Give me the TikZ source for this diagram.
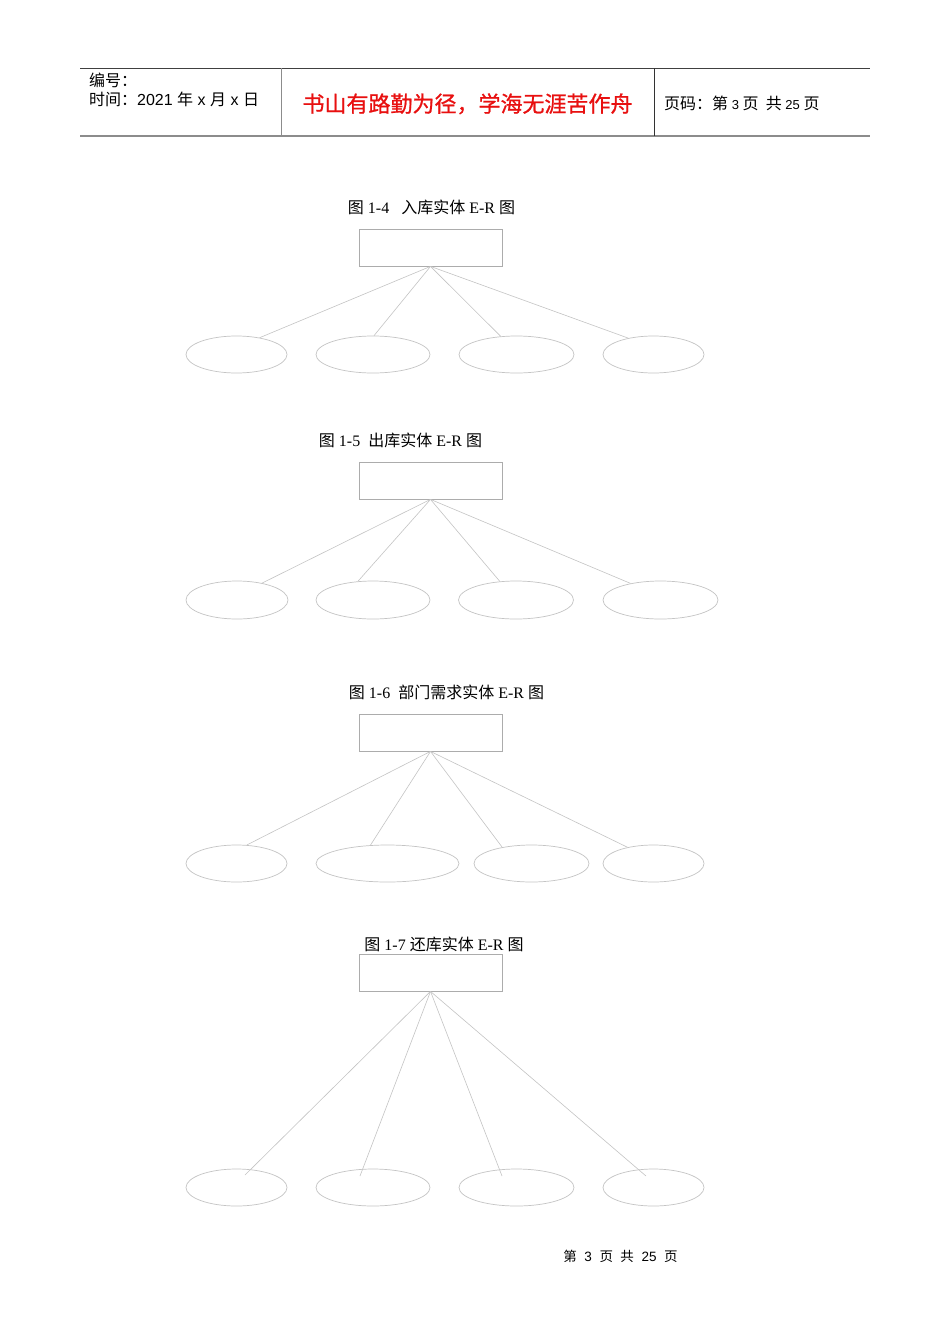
\documentclass[tikz,border=0pt]{standalone}
\usepackage{fontspec}
\setmainfont{Liberation Serif}
\newfontfamily\cjk{Noto Sans CJK SC}
\newfontfamily\cjkmid[FakeBold=0.9]{Noto Sans CJK SC}
\newfontfamily\hdsans{Liberation Sans}
\usepackage{tikz}
\usetikzlibrary{shapes.geometric}
\definecolor{linegray}{RGB}{196,196,196}
\definecolor{boxgray}{RGB}{172,172,172}
\definecolor{hdred}{RGB}{232,16,16}

\begin{document}
\begin{tikzpicture}[x=1pt,y=-1pt,
    entity/.style={draw=boxgray, line width=0.8pt, rectangle, inner sep=0pt, minimum width=143, minimum height=37},
    attr/.style={draw=linegray, line width=0.7pt, ellipse, inner sep=0pt, minimum height=37},
    erline/.style={draw=linegray, line width=0.6pt},
    caption/.style={anchor=base, inner sep=0pt, font=\fontsize{16}{19}\selectfont},
    hdtext/.style={anchor=base west, inner sep=0pt, font=\fontsize{16}{19}\selectfont}]
     \useasboundingbox[fill=white] (0,0) rectangle (950,1344);
     % Page Header
     \draw[ line width=0.8pt, black!75] (80,68)  -- (870,68) ;
     \draw[ line width=1.6pt, black!45] (80,136)  -- (870,136) ;
     \draw[ line width=0.8pt, black!45] (281,68)  -- (281,136) ;
     \draw[ line width=0.8pt, black!80] (654,68)  -- (654,136) ;
     \node[hdtext] (hdno) at (89,86) {\cjk 编号：};
     \node[hdtext] (hddate) at (89,105) {{\cjk 时间：}{\hdsans 2021\ }{\cjk 年}{\hdsans\ x\ }{\cjk 月}{\hdsans\ x\ }{\cjk 日}};
     \node[anchor=base, inner sep=0pt, text=hdred, font=\fontsize{22}{26}\selectfont\cjkmid] (motto) at (467.5,112) {书山有路勤为径，学海无涯苦作舟};
     \node[hdtext] (hdpage) at (664,109) {{\cjk 页码：第}{\hdsans\fontsize{13}{16}\selectfont\ 3\ }{\cjk 页\ \ 共}{\hdsans\fontsize{13}{16}\selectfont\ 25\ }{\cjk 页}};
     %
     % Figure 1-4
     \node[caption] (cap1) at (431.5,213) {{\cjk 图} 1-4\ \ \ {\cjk 入库实体} E-R {\cjk 图}};
     \node[entity] (r1) at (430.5,247.5) {};
     \node[attr, minimum width=101] (e11) at (236.5,354.5) {};
     \node[attr, minimum width=114] (e12) at (373,354.5) {};
     \node[attr, minimum width=115] (e13) at (516.5,354.5) {};
     \node[attr, minimum width=101] (e14) at (653.5,354.5) {};
     \draw[ erline] (r1.south)  -- (e11.36) ;
     \draw[ erline] (r1.south)  -- (e12.87) ;
     \draw[ erline] (r1.south)  -- (e13.131) ;
     \draw[ erline] (r1.south)  -- (e14.147) ;
     %
     % Figure 1-5
     \node[caption] (cap2) at (400.5,446) {{\cjk 图} 1-5\ \ {\cjk 出库实体} E-R {\cjk 图}};
     \node[entity] (r2) at (430.5,480.5) {};
     \node[attr, minimum width=102, minimum height=38] (e21) at (237,600) {};
     \node[attr, minimum width=114, minimum height=38] (e22) at (373,600) {};
     \node[attr, minimum width=115, minimum height=38] (e23) at (516,600) {};
     \node[attr, minimum width=115, minimum height=38] (e24) at (660.5,600) {};
     \draw[ erline] (r2.south)  -- (e21.34) ;
     \draw[ erline] (r2.south)  -- (e22.129) ;
     \draw[ erline] (r2.south)  -- (e23.131) ;
     \draw[ erline] (r2.south)  -- (e24.151) ;
     %
     % Figure 1-6
     \node[caption] (cap3) at (446.5,698) {{\cjk 图} 1-6\ \ {\cjk 部门需求实体} E-R {\cjk 图}};
     \node[entity] (r3) at (430.5,732.5) {};
     \node[attr, minimum width=101] (e31) at (236.5,863.5) {};
     \node[attr, minimum width=143] (e32) at (387.5,863.5) {};
     \node[attr, minimum width=115] (e33) at (531.5,863.5) {};
     \node[attr, minimum width=101] (e34) at (653.5,863.5) {};
     \draw[ erline] (r3.south)  -- (e31.61) ;
     \draw[ erline] (r3.south)  -- (e32.133) ;
     \draw[ erline] (r3.south)  -- (e33.151) ;
     \draw[ erline] (r3.south)  -- (e34.148) ;
     %
     % Figure 1-7
     \node[caption] (cap4) at (444,950) {{\cjk 图} 1-7 {\cjk 还库实体} E-R {\cjk 图}};
     \node[entity] (r4) at (430.5,972.5) {};
     \node[attr, minimum width=101] (e41) at (236.5,1187.5) {};
     \node[attr, minimum width=114] (e42) at (373,1187.5) {};
     \node[attr, minimum width=115] (e43) at (516.5,1187.5) {};
     \node[attr, minimum width=101] (e44) at (653.5,1187.5) {};
     % lines here stop a little inside the ellipses
     \draw[ erline] (r4.south)  -- ([shift={(8.5,-12.5)}]e41.center) ;
     \draw[ erline] (r4.south)  -- ([shift={(-13,-11.5)}]e42.center) ;
     \draw[ erline] (r4.south)  -- ([shift={(-14.5,-11.5)}]e43.center) ;
     \draw[ erline] (r4.south)  -- ([shift={(-7.5,-11.5)}]e44.center) ;
     %
     % Page Footer
     \node[anchor=base, inner sep=0pt, font=\fontsize{13.5}{16}\selectfont] (foot) at (620.5,1261) {{\cjk 第}\hspace{7.5pt}{\hdsans 3}\hspace{7.5pt}{\cjk 页}\hspace{7.5pt}{\cjk 共}\hspace{7.5pt}{\hdsans 25}\hspace{7.5pt}{\cjk 页}};
\end{tikzpicture}
\end{document}
